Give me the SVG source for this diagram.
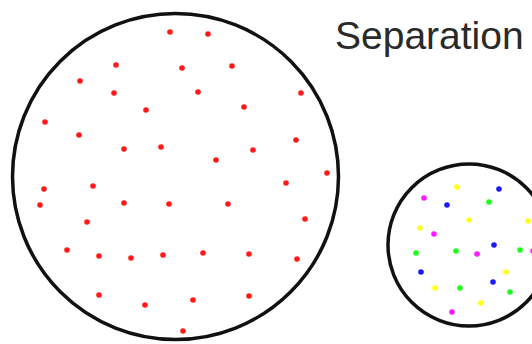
<svg xmlns="http://www.w3.org/2000/svg" width="532" height="344" viewBox="0 0 532 344">
<style>
.ring{fill:none;stroke:#111;stroke-width:3.5}
.r{fill:#ff1a1a}
.b{fill:#1a1aff}
.g{fill:#1aff1a}
.y{fill:#ffff1a}
.m{fill:#ff1aff}
.lbl{font-family:"Liberation Sans",Arial,sans-serif;font-size:39px;fill:#2a2a2a}
</style>
<rect width="532" height="344" fill="#fff"/>
<g id="big">
<circle class="ring" cx="175.5" cy="176.5" r="163"/>
<g class="r">
<circle cx="170" cy="32" r="2.8"/><circle cx="208" cy="34" r="2.8"/>
<circle cx="116" cy="65" r="2.8"/><circle cx="182" cy="68" r="2.8"/>
<circle cx="232" cy="66" r="2.8"/><circle cx="80" cy="81" r="2.8"/>
<circle cx="114" cy="93" r="2.8"/><circle cx="198" cy="92" r="2.8"/>
<circle cx="301" cy="93" r="2.8"/><circle cx="146" cy="110" r="2.8"/>
<circle cx="244" cy="107" r="2.8"/><circle cx="45" cy="122" r="2.8"/>
<circle cx="79" cy="135" r="2.8"/><circle cx="296" cy="140" r="2.8"/>
<circle cx="124" cy="149" r="2.8"/><circle cx="161" cy="147" r="2.8"/>
<circle cx="253" cy="150" r="2.8"/><circle cx="216" cy="160" r="2.8"/>
<circle cx="327" cy="173" r="2.8"/><circle cx="286" cy="183" r="2.8"/>
<circle cx="44" cy="189" r="2.8"/><circle cx="93" cy="186" r="2.8"/>
<circle cx="40" cy="205" r="2.8"/><circle cx="124" cy="203" r="2.8"/>
<circle cx="169" cy="204" r="2.8"/><circle cx="228" cy="204" r="2.8"/>
<circle cx="305" cy="219" r="2.8"/><circle cx="87" cy="222" r="2.8"/>
<circle cx="67" cy="250" r="2.8"/><circle cx="99" cy="256" r="2.8"/>
<circle cx="131" cy="258" r="2.8"/><circle cx="163" cy="255" r="2.8"/>
<circle cx="203" cy="253" r="2.8"/><circle cx="249" cy="254" r="2.8"/>
<circle cx="297" cy="259" r="2.8"/><circle cx="99" cy="295" r="2.8"/>
<circle cx="145" cy="305" r="2.8"/><circle cx="193" cy="300" r="2.8"/>
<circle cx="249" cy="296" r="2.8"/><circle cx="183" cy="331" r="2.8"/>
</g>
</g>
<g id="small">
<circle class="ring" cx="469" cy="245" r="81"/>
<circle class="y" cx="457" cy="187" r="2.8"/>
<circle class="b" cx="499" cy="189" r="2.8"/>
<circle class="m" cx="424" cy="198" r="2.8"/>
<circle class="b" cx="447" cy="205" r="2.8"/>
<circle class="g" cx="489" cy="202" r="2.8"/>
<circle class="y" cx="469" cy="220" r="2.8"/>
<circle class="y" cx="528" cy="221" r="2.8"/>
<circle class="y" cx="420" cy="228" r="2.8"/>
<circle class="m" cx="434" cy="234" r="2.8"/>
<circle class="b" cx="494" cy="245" r="2.8"/>
<circle class="g" cx="416" cy="253" r="2.8"/>
<circle class="g" cx="456" cy="251" r="2.8"/>
<circle class="m" cx="477" cy="254" r="2.8"/>
<circle class="g" cx="520" cy="250" r="2.8"/>
<circle class="m" cx="533" cy="251" r="2.8"/>
<circle class="b" cx="421" cy="272" r="2.8"/>
<circle class="y" cx="506" cy="272" r="2.8"/>
<circle class="b" cx="493" cy="282" r="2.8"/>
<circle class="y" cx="435" cy="288" r="2.8"/>
<circle class="g" cx="460" cy="288" r="2.8"/>
<circle class="g" cx="510" cy="292" r="2.8"/>
<circle class="y" cx="481" cy="303" r="2.8"/>
<circle class="m" cx="452" cy="312" r="2.8"/>
</g>
<g id="title">
<text class="lbl" x="335" y="49">Separation</text>
</g>
</svg>
